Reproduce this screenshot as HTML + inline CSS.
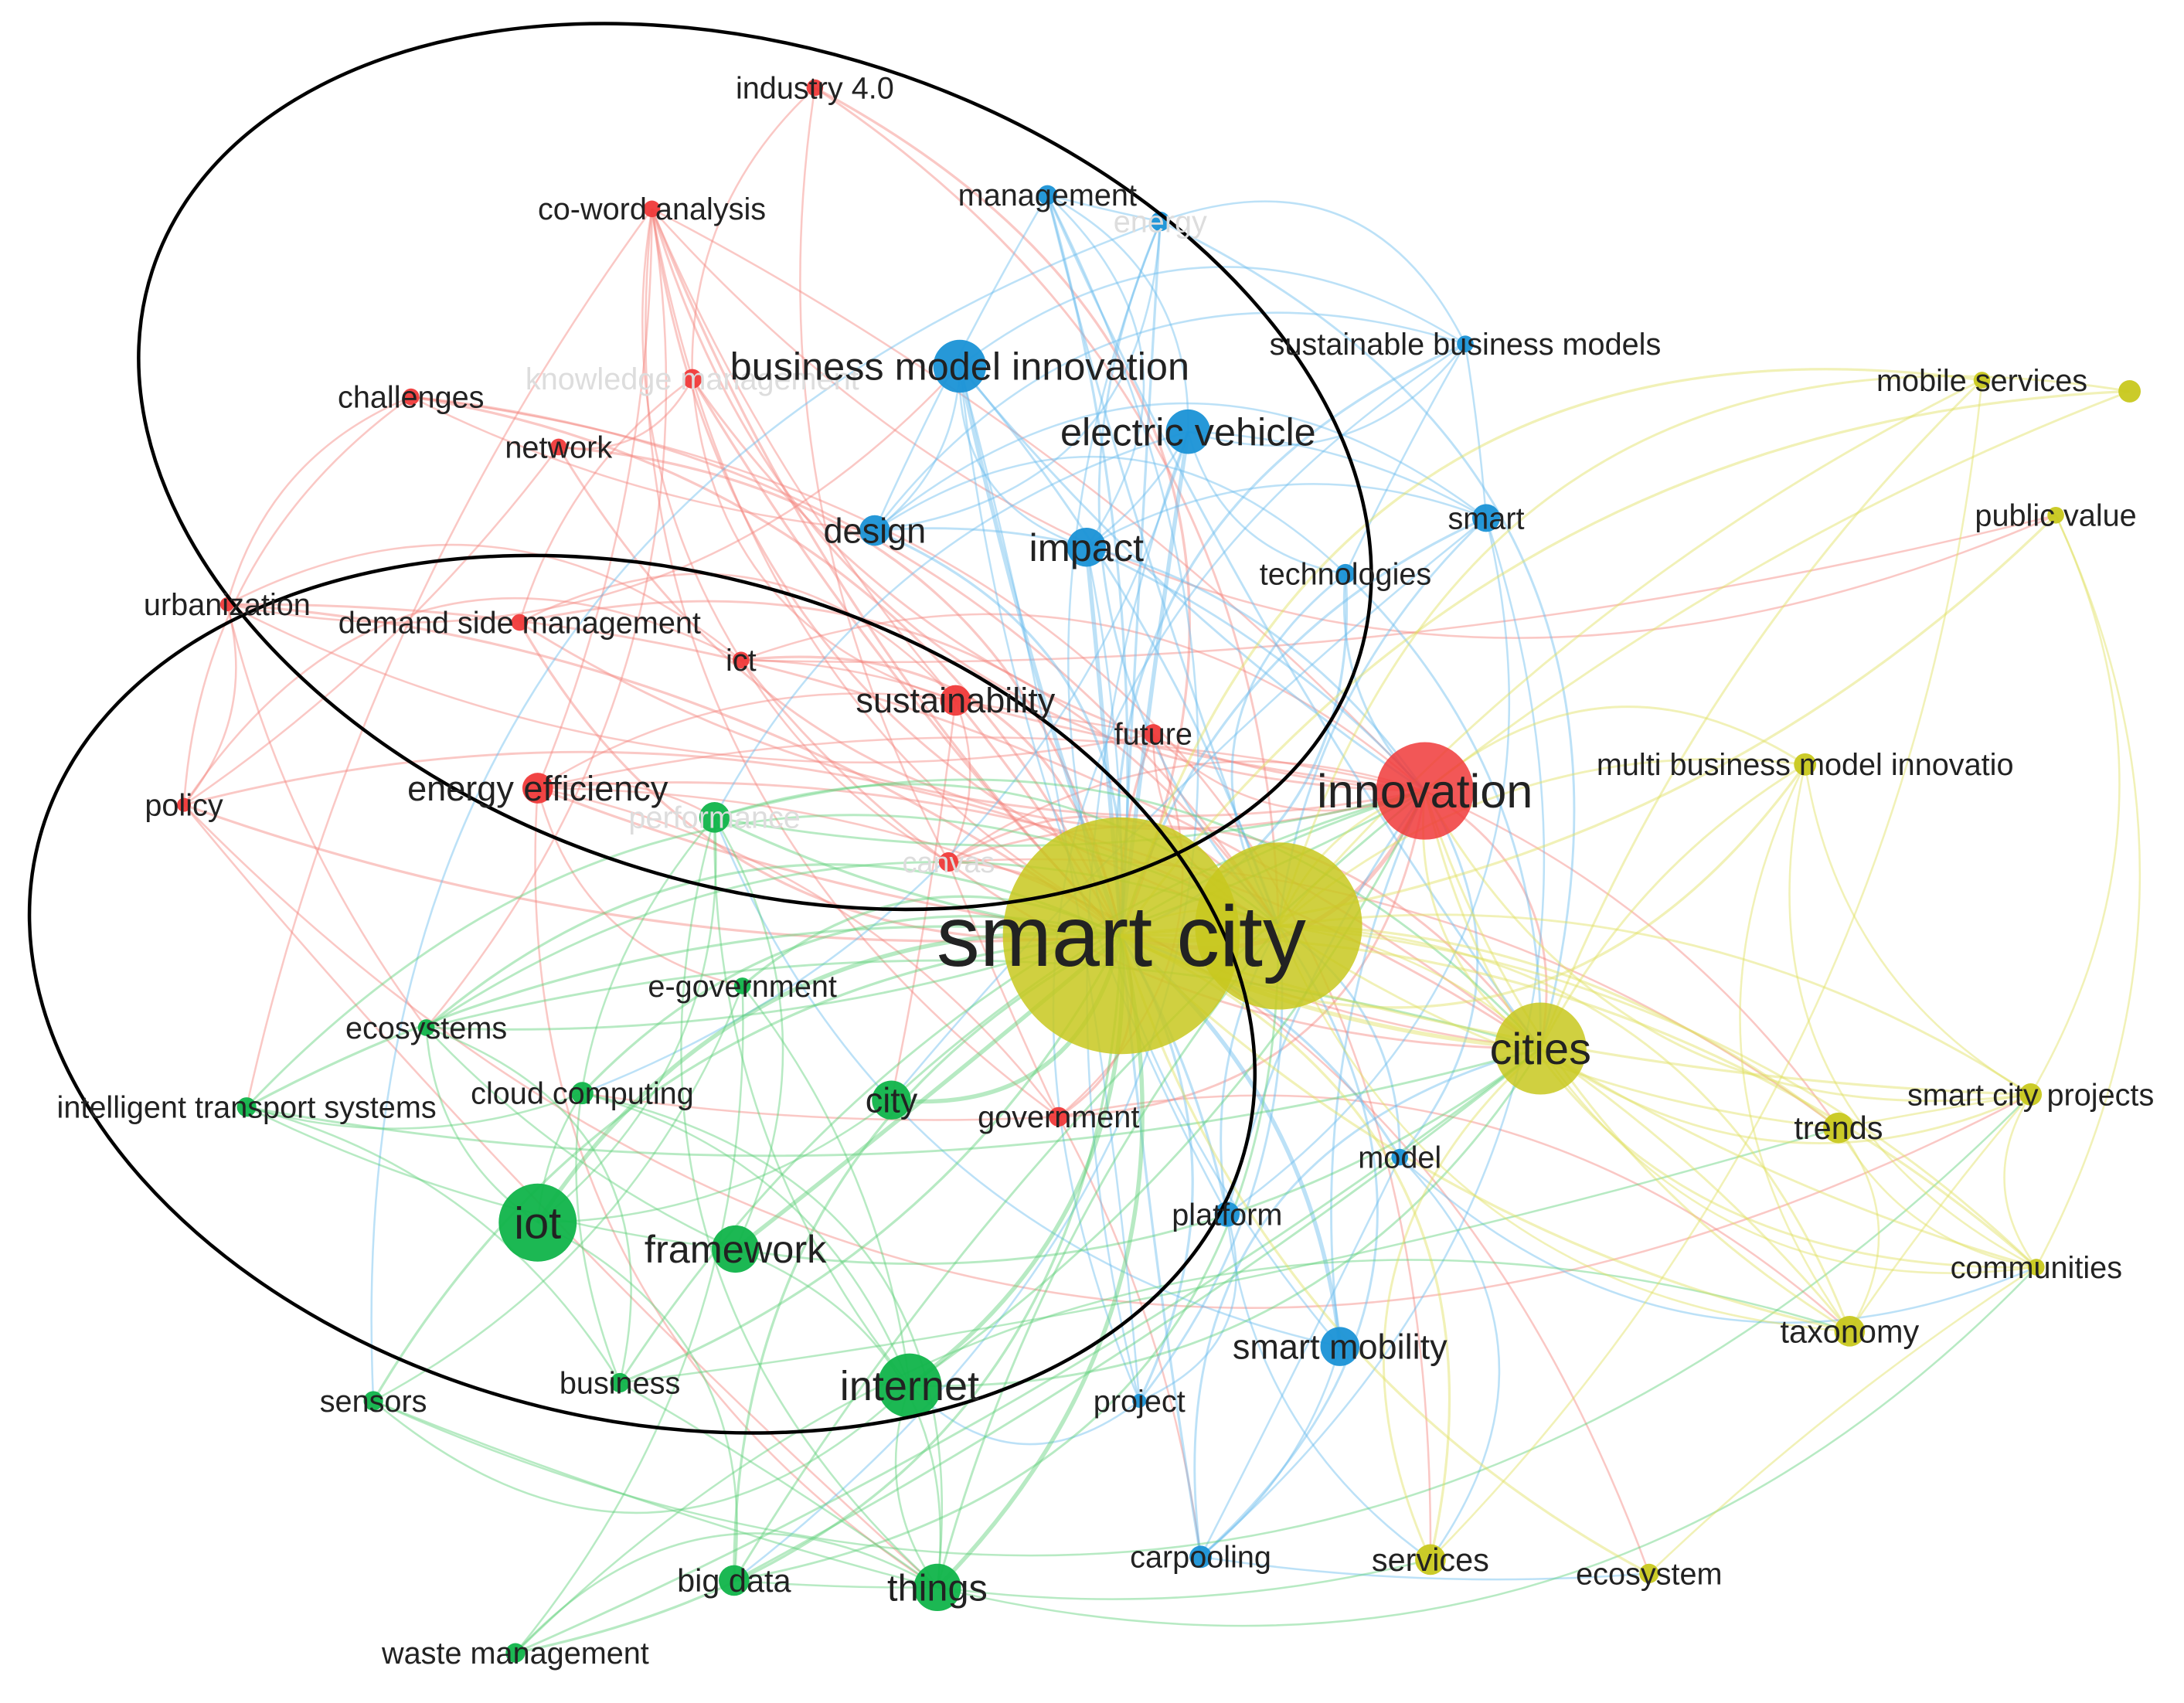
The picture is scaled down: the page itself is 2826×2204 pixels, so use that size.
<!DOCTYPE html>
<html><head><meta charset="utf-8">
<style>
html,body{margin:0;padding:0;background:#fff;}
svg{display:block;}
text{font-family:"Liberation Sans",sans-serif;fill:#222;}
</style></head>
<body>
<svg id="s" width="2826" height="2204" viewBox="0 0 1568 1223" xmlns="http://www.w3.org/2000/svg">
<g id="edges" fill="none" stroke-width="1.6" stroke-opacity="0.45"></g>
<g id="nodes"></g>
<ellipse cx="542" cy="335" rx="455" ry="300" transform="rotate(18 542 335)" fill="none" stroke="#000" stroke-width="2.5"/>
<ellipse cx="461" cy="714" rx="447" ry="305" transform="rotate(14 461 714)" fill="none" stroke="#000" stroke-width="2.5"/>
<g id="labels"></g>
</svg>
<script>
var C={r:"#f03a3a",b:"#1a92d6",g:"#10b44a",y:"#c8c81e"};
var E={r:"#f5857f",b:"#6bbdee",g:"#5fd07a",y:"#e0e060"};
var N=[
["industry 4.0",585,63,6,"r",22,0],["co-word analysis",468,150,6,"r",22,0],["knowledge management",497,272,7,"r",22,1],
["challenges",295,285,6,"r",22,0],["network",401,321,6,"r",22,0],["urbanization",163,434,5,"r",22,0],
["demand side management",373,447,6,"r",22,0],["ict",532,474,6,"r",22,0],["sustainability",686,503,11,"r",25,0],
["future",828,527,7,"r",22,0],["energy efficiency",386,566,11,"r",25,0],["policy",132,578,5,"r",22,0],
["canvas",681,619,7,"r",21,1],["government",760,802,7,"r",22,0],["innovation",1023,568,35,"r",34,0],
["management",752,140,7,"b",22,0],["energy",833,159,7,"b",22,1],["business model innovation",689,263,19,"b",28,0],
["electric vehicle",853,310,16,"b",28,0],["sustainable business models",1052,247,6,"b",22,0],["design",628,381,11,"b",25,0],
["impact",780,393,14,"b",28,0],["technologies",966,412,7,"b",22,0],["smart",1067,372,10,"b",22,0],
["model",1005,831,6,"b",22,0],["platform",881,872,9,"b",22,0],["smart mobility",962,967,14,"b",25,0],
["project",818,1006,5,"b",22,0],["carpooling",862,1118,8,"b",22,0],
["performance",513,587,11,"g",22,1],["e-government",533,708,6,"g",22,0],["ecosystems",306,738,6,"g",22,0],
["cloud computing",418,785,8,"g",22,0],["intelligent transport systems",177,795,7,"g",22,0],["city",640,790,14,"g",25,0],
["iot",386,878,28,"g",32,0],["framework",528,897,17,"g",28,0],["business",445,993,7,"g",22,0],
["sensors",268,1006,7,"g",22,0],["internet",653,995,23,"g",30,0],["big data",527,1135,11,"g",23,0],
["things",673,1140,17,"g",27,0],["waste management",370,1187,7,"g",22,0],
["",918,665,60,"y",16,0],["smart city",805,672,85,"y",62,0],["cities",1106,753,33,"y",32,0],
["mobile services",1423,273,6,"y",22,0],["",1529,281,8,"y",16,0],["public value",1476,370,6,"y",22,0],
["multi business model innovatio",1296,549,8,"y",22,0],["smart city projects",1458,786,8,"y",22,0],
["trends",1320,810,11,"y",23,0],["communities",1462,910,6,"y",22,0],["taxonomy",1328,956,11,"y",23,0],
["services",1027,1120,11,"y",23,0],["ecosystem",1184,1130,7,"y",22,0]];
var ns="http://www.w3.org/2000/svg";
function el(t,a,p){var e=document.createElementNS(ns,t);for(var k in a)e.setAttribute(k,a[k]);p.appendChild(e);return e;}
var eg=document.getElementById("edges"),ng=document.getElementById("nodes"),lg=document.getElementById("labels");
var seed=7;function rnd(){seed=(seed*16807)%2147483647;return seed/2147483647;}
function edge(a,b,w){var A=N[a],B=N[b];var mx=(A[1]+B[1])/2,my=(A[2]+B[2])/2,dx=B[1]-A[1],dy=B[2]-A[2];
var k=(rnd()-0.5)*0.9;el("path",{d:"M"+A[1]+","+A[2]+" Q"+(mx-dy*k)+","+(my+dx*k)+" "+B[1]+","+B[2],stroke:E[A[4]],"stroke-width":w||1.6},eg);}
var sc=44,inn=14,sc2=43,cit=45;
for(var i=0;i<N.length;i++){if(i==sc)continue;
 edge(i,sc,N[i][3]>12?3:1.8);
 if(i!=inn&&rnd()<0.6)edge(i,inn);
 if(i!=sc2&&rnd()<0.5)edge(i,sc2);
 if(i!=cit&&rnd()<0.4)edge(i,cit);
 for(var j=0;j<N.length;j++){if(j==i)continue;
  var same=N[j][4]==N[i][4];var d=Math.hypot(N[i][1]-N[j][1],N[i][2]-N[j][2]);
  var p=same?(d<450?0.42:0.15):(d<350?0.1:0.025);
  if(j>i&&rnd()<p)edge(i,j,1.4);}}
for(var i=0;i<N.length;i++){var n=N[i];
 el("circle",{cx:n[1],cy:n[2],r:n[3],fill:C[n[4]],"fill-opacity":n[3]>30?0.85:0.95},ng);
 if(n[0]){var t=el("text",{x:n[1],y:n[2]+n[5]*0.35,"font-size":n[5],"text-anchor":"middle"},lg);
  if(n[6])t.setAttribute("style","fill:#ddd");t.textContent=n[0];}}
</script>
</body></html>
